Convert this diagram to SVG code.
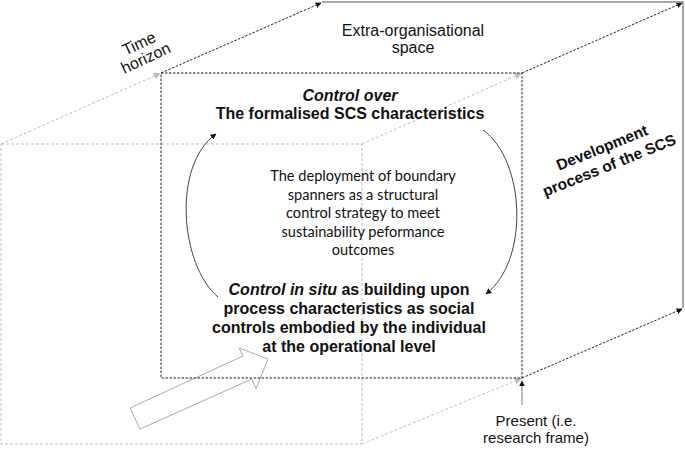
<svg xmlns="http://www.w3.org/2000/svg" width="685" height="449" viewBox="0 0 685 449">
<style>
.lg{fill:none;stroke:#bdbdbd;stroke-width:1;stroke-dasharray:3 2}
.dk{fill:none;stroke:#222;stroke-width:1;stroke-dasharray:2.5 1.5}
.sg{fill:none;stroke:#8a8a8a;stroke-width:1.5}
.arc{fill:none;stroke:#444;stroke-width:1}
.t{font-family:"Liberation Sans",Arial,sans-serif;fill:#111}
.b{font-weight:bold}
.c{font-family:Lato,"Open Sans",sans-serif;font-size:14.6px;fill:#111}
</style>
<defs>
<marker id="ak" viewBox="0 0 10 10" refX="9" refY="5" markerWidth="6" markerHeight="6" markerUnits="userSpaceOnUse" orient="auto"><path d="M0,0 L10,5 L0,10 z" fill="#111"/></marker>
<marker id="ag" viewBox="0 0 10 10" refX="9" refY="5" markerWidth="7" markerHeight="7" markerUnits="userSpaceOnUse" orient="auto"><path d="M0,0 L10,5 L0,10 z" fill="#bdbdbd"/></marker>
</defs>
<g id="front-box">
<rect class="lg" x="1" y="144" width="361" height="300"/>
</g>
<g id="connectors">
<line class="lg" x1="1" y1="144" x2="160" y2="73.5" marker-end="url(#ag)"/>
<line class="lg" x1="362" y1="144" x2="521" y2="73.5" marker-end="url(#ag)"/>
<line class="lg" x1="362" y1="444" x2="521" y2="378.5" marker-end="url(#ag)"/>
<line class="dk" x1="161" y1="73" x2="321" y2="3" marker-end="url(#ak)"/>
<line class="dk" x1="522" y1="73" x2="682" y2="3" marker-end="url(#ak)"/>
<line class="dk" x1="522" y1="378" x2="682" y2="309" marker-end="url(#ak)"/>
<path class="arc" d="M218,297 C180,265 172,165 216,134" marker-end="url(#ak)"/>
<path class="arc" d="M483,130 C525,160 530,260 486,294" marker-end="url(#ak)"/>
<line x1="522" y1="405" x2="522" y2="381" stroke="#8a8a8a" stroke-width="1.2" marker-end="url(#ak)"/>
<polygon points="130,408 243,356 239,348 268,359 256,389 252,379 140,429" fill="none" stroke="#a8a8a8" stroke-width="1"/>
</g>
<g id="back-box">
<polyline class="sg" points="322,2 683,2 683,308"/>
</g>
<g id="middle-box">
<rect class="dk" x="161" y="73" width="361" height="305"/>
</g>
<g id="time-horizon">
<text class="t" font-size="16" text-anchor="middle" transform="translate(143,52) rotate(-25)"><tspan x="0" y="-4">Time</tspan><tspan x="0" y="12">horizon</tspan></text>
</g>
<g id="extra-organisational">
<text class="t" font-size="16" text-anchor="middle"><tspan x="413" y="36">Extra-organisational</tspan><tspan x="413" y="53">space</tspan></text>
</g>
<g id="control-over">
<text class="t b" font-size="16" text-anchor="middle"><tspan x="350" y="101" font-style="italic">Control over</tspan><tspan x="350" y="119">The formalised SCS characteristics</tspan></text>
</g>
<g id="deployment">
<text class="c" text-anchor="middle"><tspan x="363" y="181">The deployment of boundary</tspan><tspan x="363" y="199.5">spanners as a structural</tspan><tspan x="363" y="218">control strategy to meet</tspan><tspan x="363" y="236.5">sustainability peformance</tspan><tspan x="363" y="255">outcomes</tspan></text>
</g>
<g id="control-in-situ">
<text class="t b" font-size="16" text-anchor="middle"><tspan x="349" y="295"><tspan font-style="italic">Control in situ</tspan> as building upon</tspan><tspan x="349" y="314">process characteristics as social</tspan><tspan x="349" y="333">controls embodied by the individual</tspan><tspan x="349" y="352">at the operational level</tspan></text>
</g>
<g id="development">
<text class="t b" font-size="15.5" text-anchor="middle" transform="translate(607,160) rotate(-22)"><tspan x="0" y="-8">Development</tspan><tspan x="0" y="11">process of the SCS</tspan></text>
</g>
<g id="present">
<text class="t" font-size="15" text-anchor="middle"><tspan x="536" y="426">Present (i.e.</tspan><tspan x="536" y="443">research frame)</tspan></text>
</g>
</svg>
